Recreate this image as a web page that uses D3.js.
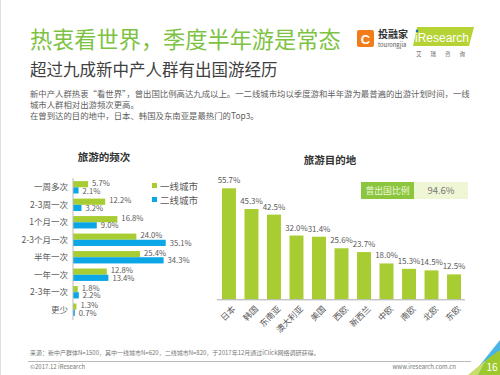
<!DOCTYPE html>
<html><head><meta charset="utf-8">
<script src="https://cdn.jsdelivr.net/npm/d3@7"></script>
<style>body{margin:0;background:#fff}svg{display:block;font-family:"Noto Sans CJK SC","Noto Sans",sans-serif}</style>
</head><body>
<script>
const freqCats = ["一周多次","2-3周一次","1个月一次","2-3个月一次","半年一次","一年一次","2-3年一次","更少"];
const tier1 = [5.7,12.2,16.8,24.0,25.4,12.8,1.8,1.3];
const tier2 = [2.1,3.2,9.0,35.1,34.3,13.4,2.2,0.7];
const seriesNames = ["一线城市","二线城市"];
const destinations = ["日本","韩国","东南亚","澳大利亚","美国","西欧","新西兰","中欧","南欧","北欧","东欧"];
const destValues = [55.7,45.3,42.5,32.0,31.4,25.6,23.7,18.0,15.3,14.5,12.5];
const abroadRate = 94.6;

const GREEN="#a8cd32", BLUE="#0aa6e6", GRAY="#595959";
const W=500,H=375;
const svg=d3.select("body").append("svg").attr("width",W).attr("height",H);

svg.append("line").attr("x1",0.5).attr("x2",0.5).attr("y1",0).attr("y2",H).attr("stroke","#e0e0e0");

// Title
svg.append("text").attr("x",30).attr("y",48).attr("font-size",22.2).attr("fill","#7dc242").text("热衷看世界，季度半年游是常态");
svg.append("text").attr("x",30).attr("y",76).attr("font-size",16.5).attr("fill","#404040").text("超过九成新中产人群有出国游经历");
const body=["新中产人群热衷“看世界”，曾出国比例高达九成以上。一二线城市均以季度游和半年游为最普遍的出游计划时间，一线",
"城市人群相对出游频次更高。","在曾到达的目的地中，日本、韩国及东南亚是最热门的Top3。"];
body.forEach((t,i)=>svg.append("text").attr("x",30).attr("y",97+i*11).attr("font-size",8.4).attr("fill","#606060").text(t));

// Logo
svg.append("rect").attr("x",357).attr("y",30).attr("width",17).attr("height",17).attr("rx",2).attr("fill","#f27b1a");
svg.append("text").attr("x",365.5).attr("y",43.5).attr("text-anchor","middle").attr("font-size",13).attr("font-weight","bold").attr("fill","#fff").attr("font-family","Arial").text("C");
svg.append("text").attr("x",378).attr("y",38).attr("font-size",10).attr("font-weight","bold").attr("fill","#333").text("投融家");
svg.append("text").attr("x",378).attr("y",47).attr("font-size",5.8).attr("fill","#555").text("tourongjia");
svg.append("polygon").attr("points","417,27 474,27 469,46 413,46").attr("fill","#b5d334");
svg.append("text").attr("x",415).attr("y",42).attr("font-size",12).attr("fill","#fff").attr("font-family","Arial").text("iResearch");
svg.append("circle").attr("cx",417).attr("cy",31).attr("r",1.3).attr("fill","#1d6fb8");
svg.append("text").attr("x",416).attr("y",56).attr("font-size",5.5).attr("fill","#666").attr("letter-spacing","9").text("艾瑞咨询");

// Left chart
svg.append("text").attr("x",104).attr("y",161).attr("text-anchor","middle").attr("font-size",10.5).attr("font-weight","bold").attr("fill","#333").text("旅游的频次");
const x0=73;
const xL=d3.scaleLinear().domain([0,35.1]).range([x0,165.7]);
const yL=d3.scaleBand().domain(freqCats).range([179,318]).paddingInner(0.15).paddingOuter(0.05);
const bh=6.2;
const gL=svg.append("g");
freqCats.forEach((c,i)=>{
  const yc=yL(c)+yL.bandwidth()/2;
  [[tier1[i],GREEN,yc-bh,-0.8],[tier2[i],BLUE,yc,0.8]].forEach(([v,col,yy,off])=>{
    gL.append("rect").attr("x",x0).attr("y",yy).attr("width",xL(v)-x0).attr("height",bh).attr("fill",col);
    gL.append("text").attr("x",xL(v)+4).attr("y",yy+bh-0.8+off).attr("font-size",7.7).attr("fill",GRAY).text(v.toFixed(1)+"%");
  });
  gL.append("text").attr("x",x0-5).attr("y",yc+3).attr("text-anchor","end").attr("font-size",8.5).attr("fill",GRAY).text(c);
});
svg.append("line").attr("x1",x0).attr("x2",x0).attr("y1",178).attr("y2",320).attr("stroke","#bbb").attr("stroke-width",1);
[[GREEN,seriesNames[0],187],[BLUE,seriesNames[1],201]].forEach(([col,t,y])=>{
  svg.append("rect").attr("x",152).attr("y",y-4).attr("width",5).attr("height",5).attr("fill",col);
  svg.append("text").attr("x",160).attr("y",y+2.5).attr("font-size",9.5).attr("fill",GRAY).text(t);
});

// Right chart
svg.append("text").attr("x",330).attr("y",164).attr("text-anchor","middle").attr("font-size",10.5).attr("font-weight","bold").attr("fill","#333").text("旅游目的地");
svg.append("rect").attr("x",361).attr("y",182).attr("width",53).attr("height",17).attr("fill","#8cc63f");
svg.append("text").attr("x",387.5).attr("y",194).attr("text-anchor","middle").attr("font-size",8.8).attr("fill","#eef7dd").text("曾出国比例");
svg.append("rect").attr("x",414).attr("y",182).attr("width",54).attr("height",17).attr("fill","#eff6d6");
svg.append("text").attr("x",441).attr("y",194).attr("text-anchor","middle").attr("font-size",9.5).attr("fill","#777").text(abroadRate.toFixed(1)+"%");

const xR=d3.scaleBand().domain(destinations).range([217.5,465.5]).paddingInner(0.38).paddingOuter(0.2);
const base=299.3;
const yR=d3.scaleLinear().domain([0,55.7]).range([base,188.3]);
const gR=svg.append("g");
destinations.forEach((c,i)=>{
  const v=destValues[i];
  gR.append("rect").attr("x",xR(c)).attr("y",yR(v)).attr("width",xR.bandwidth()).attr("height",base-yR(v)).attr("fill",GREEN);
  gR.append("text").attr("x",xR(c)+xR.bandwidth()/2).attr("y",yR(v)-5).attr("text-anchor","middle").attr("font-size",7.9).attr("fill",GRAY).text(v.toFixed(1)+"%");
  const cx=xR(c)+xR.bandwidth()/2+3, cy=base+6;
  gR.append("text").attr("transform",`translate(${cx},${cy}) rotate(-45)`).attr("text-anchor","end").attr("dy","0.7em").attr("font-size",8.5).attr("fill",GRAY).text(c);
});
svg.append("line").attr("x1",217).attr("x2",465).attr("y1",base+0.5).attr("y2",base+0.5).attr("stroke","#aaa");

// Footer
svg.append("text").attr("x",30).attr("y",355).attr("font-size",6).attr("fill","#777").text("来源：新中产群体N=1500，其中一线城市N=620，二线城市N=820，于2017年12月通过iClick网络调研获得。");
svg.append("line").attr("x1",28).attr("x2",471).attr("y1",361.5).attr("y2",361.5).attr("stroke","#bbb");
svg.append("text").attr("x",30).attr("y",369).attr("font-size",6).attr("fill","#777").text("©2017.12 iResearch");
svg.append("text").attr("x",456).attr("y",369).attr("text-anchor","end").attr("font-size",6).attr("fill","#777").text("www.iresearch.com.cn");
svg.append("polygon").attr("points","500,340 500,375 472,375").attr("fill","#4bb4e6");
svg.append("polygon").attr("points","500,350 500,375 478,375 486,360").attr("fill","#9dc92f");
svg.append("polygon").attr("points","486,360 478,375 468,375").attr("fill","#c6dd6a");
svg.append("text").attr("x",492).attr("y",371).attr("text-anchor","middle").attr("font-size",10).attr("fill","#fff").text("16");
</script>
</body></html>
